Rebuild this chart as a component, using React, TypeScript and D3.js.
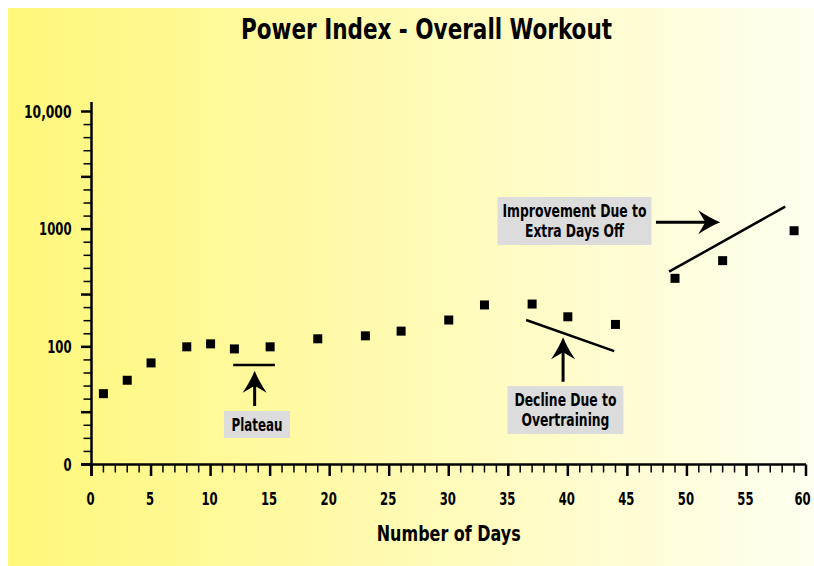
import React from "react";
import * as d3 from "d3";

const days = [1, 3, 5, 8, 10, 12, 15, 19, 23, 26, 30, 33, 37, 40, 44, 49, 53, 59];
const power = [40, 52, 73, 100, 106, 96, 100, 117, 124, 136, 169, 227, 231, 180, 155, 382, 540, 970];
const xTickValues = [0, 5, 10, 15, 20, 25, 30, 35, 40, 45, 50, 55, 60];
const yTickValues = [10, 100, 1000, 10000];
const yTickLabels = ["0", "100", "1000", "10,000"];
const title = "Power Index - Overall Workout";
const xTitle = "Number of Days";

// annotation anchors in data coordinates
const plateauLine = [[11.9, 70], [15.4, 70]];
const plateauArrow = [[13.7, 31.4], [13.7, 62.7]];
const declineLine = [[36.5, 169], [43.9, 92]];
const declineArrow = [[39.6, 50.5], [39.6, 120.5]];
const improveLine = [[48.5, 435], [58.25, 1552]];
const improveArrow = [[47.4, 1143], [52.8, 1143]];
const plateauText = ["Plateau"];
const declineText = ["Decline Due to", "Overtraining"];
const improveText = ["Improvement Due to", "Extra Days Off"];

const FONT = "'DejaVu Sans Condensed', 'DejaVu Sans', sans-serif";

const W = 814;
const H = 566;

// condensed bold text squeezed to a target width
function T(props: { x: number; y: number; w: number; size: number; anchor?: string; children: string }) {
  const { x, y, w, size, anchor = "middle", children } = props;
  return (
    <text
      x={x}
      y={y}
      textAnchor={anchor}
      fontFamily={FONT}
      fontWeight="bold"
      fontSize={size}
      fill="#000"
      textLength={w}
      lengthAdjust="spacingAndGlyphs"
    >
      {children}
    </text>
  );
}

const digitW = (s: string) => s.replace(/,/g, "").length * 8.1 + (s.includes(",") ? 7 : 0);

export default function App() {
  const x = d3.scaleLinear().domain([0, 60]).range([91.5, 806]);
  const y = d3.scaleLog().domain([10, 10000]).range([464.5, 111.5]);

  const xMinor = d3.range(0, 61).filter((d) => d % 5 !== 0);
  const yMinor: { v: number; long: boolean }[] = [];
  [1, 2, 3].forEach((dec) => {
    for (let k = 1; k <= 8; k++) {
      yMinor.push({ v: Math.pow(10, dec + k / 9), long: k === 4 });
    }
  });

  const arrowHead = (tx: number, ty: number, angle: number) => {
    const L = 22, hw = 12, notch = 15;
    const c = Math.cos(angle), s = Math.sin(angle);
    const pt = (a: number, b: number) => [tx - a * c - b * -s, ty - a * s - b * c];
    const p1 = pt(L, hw), p2 = pt(notch, 0), p3 = pt(L, -hw);
    const q1 = pt(10, 4), q2 = pt(10, -4);
    return `M${tx},${ty} Q${q1[0]},${q1[1]} ${p1[0]},${p1[1]} L${p2[0]},${p2[1]} L${p3[0]},${p3[1]} Q${q2[0]},${q2[1]} ${tx},${ty} Z`;
  };

  const arrow = (pts: number[][], key: string) => {
    const x1 = x(pts[0][0]), y1 = y(pts[0][1]), x2 = x(pts[1][0]), y2 = y(pts[1][1]);
    const ang = Math.atan2(y2 - y1, x2 - x1);
    const ex = x2 - 14 * Math.cos(ang), ey = y2 - 14 * Math.sin(ang);
    return (
      <g key={key}>
        <line x1={x1} y1={y1} x2={ex} y2={ey} stroke="#000" strokeWidth={3} />
        <path d={arrowHead(x2, y2, ang)} fill="#000" />
      </g>
    );
  };

  const seg = (pts: number[][], key: string) => (
    <line key={key} x1={x(pts[0][0])} y1={y(pts[0][1])} x2={x(pts[1][0])} y2={y(pts[1][1])} stroke="#000" strokeWidth={2.5} />
  );

  const box = (lines: string[], widths: number[], cx: number, top: number, w: number, h: number, key: string) => (
    <g key={key}>
      <rect x={cx - w / 2} y={top} width={w} height={h} fill="#dcdcdc" />
      {lines.map((t, i) => (
        <T key={i} x={cx} y={top + (lines.length === 1 ? 20 : 20 + i * 20)} w={widths[i]} size={17}>
          {t}
        </T>
      ))}
    </g>
  );

  return (
    <svg width={W} height={H} style={{ position: "absolute", left: 0, top: 0 }}>
      <defs>
        <linearGradient id="bg" x1="0" y1="0" x2="1" y2="0">
          <stop offset="0" stopColor="#fff77a" />
          <stop offset="0.45" stopColor="#fffaae" />
          <stop offset="1" stopColor="#fffff0" />
        </linearGradient>
      </defs>
      <rect x={8} y={8} width={W - 8} height={H - 8} fill="url(#bg)" />
      <T x={426.5} y={39} w={371} size={29}>
        {title}
      </T>

      {/* axes */}
      <line x1={x(0)} y1={102} x2={x(0)} y2={476} stroke="#000" strokeWidth={2.5} />
      <line x1={81} y1={y(10)} x2={x(60)} y2={y(10)} stroke="#000" strokeWidth={2.5} />
      {xTickValues.map((v) => (
        <g key={"xt" + v}>
          <line x1={x(v)} y1={y(10)} x2={x(v)} y2={476} stroke="#000" strokeWidth={2.5} />
          <T x={v === 60 ? x(v) - 3.5 : x(v) - 1} y={505} w={digitW(String(v))} size={17.5}>
            {String(v)}
          </T>
        </g>
      ))}
      {xMinor.map((v) => (
        <line key={"xm" + v} x1={x(v)} y1={y(10)} x2={x(v)} y2={472.5} stroke="#000" strokeWidth={1.5} />
      ))}
      {yTickValues.map((v, i) => (
        <g key={"yt" + v}>
          <line x1={81} y1={y(v)} x2={x(0)} y2={y(v)} stroke="#000" strokeWidth={2.5} />
          <T x={71.5} y={y(v) + 6} w={digitW(yTickLabels[i])} size={17.5} anchor="end">
            {yTickLabels[i]}
          </T>
        </g>
      ))}
      {yMinor.map((m, i) => (
        <line key={"ym" + i} x1={m.long ? 81 : 83.5} y1={y(m.v)} x2={x(0)} y2={y(m.v)} stroke="#000" strokeWidth={m.long ? 2.5 : 1.5} />
      ))}
      <T x={448.75} y={541} w={144} size={22}>
        {xTitle}
      </T>

      {/* data */}
      {days.map((d, i) => (
        <rect key={"p" + i} x={x(d) - 4.5} y={y(power[i]) - 4.5} width={9} height={9} fill="#000" />
      ))}

      {/* annotations */}
      {seg(plateauLine, "pl")}
      {arrow(plateauArrow, "pa")}
      {box(plateauText, [51], x(13.9), 411, 66, 27, "pb")}
      {seg(declineLine, "dl")}
      {arrow(declineArrow, "da")}
      {box(declineText, [102, 88], x(39.8), 386, 116, 48, "db")}
      {seg(improveLine, "il")}
      {arrow(improveArrow, "ia")}
      {box(improveText, [144, 99], 574.5, 197, 154, 48, "ib")}
    </svg>
  );
}
